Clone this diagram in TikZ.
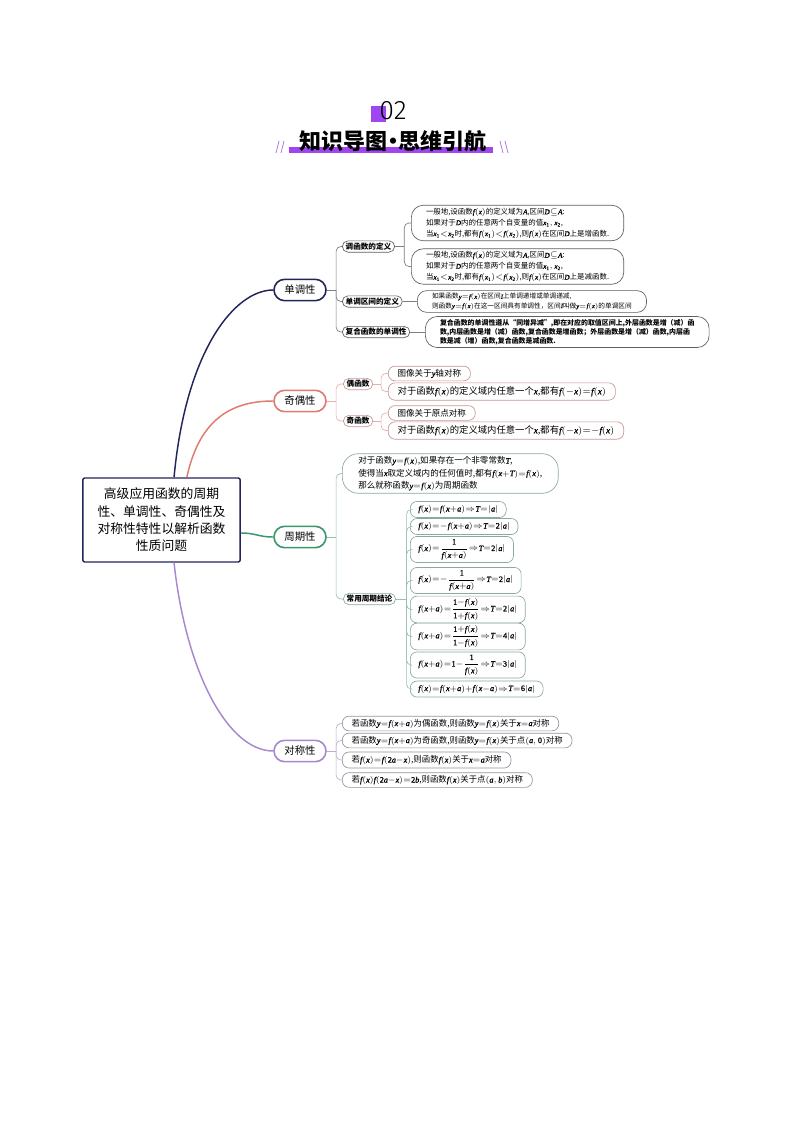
\documentclass[tikz,border=0pt]{standalone}
\usepackage{amsmath}
\usepackage{mathspec}
\setmainfont{Noto Sans CJK SC}
\newfontfamily\numfont{Fira Sans Light}
\setmathsfont(Digits,Latin)[Scale=0.97, FakeBold=1.3]{Liberation Serif}
\usetikzlibrary{shapes.misc}
\definecolor{titlepurple}{RGB}{160,70,240}
\definecolor{slashpurple}{RGB}{175,120,230}
\definecolor{mapnavy}{RGB}{35,36,92}
\definecolor{mapsalmon}{RGB}{222,122,110}
\definecolor{mapgreen}{RGB}{58,150,108}
\definecolor{maplilac}{RGB}{168,136,206}
\definecolor{monotwig}{RGB}{125,125,130}
\definecolor{paritytwig}{RGB}{232,175,170}
\definecolor{periodtwig}{RGB}{150,195,175}
\definecolor{symmtwig}{RGB}{190,175,210}
\definecolor{monobox}{RGB}{95,95,100}
\definecolor{paritybox}{RGB}{200,150,150}
\definecolor{periodbox}{RGB}{140,170,155}
\definecolor{symmbox}{RGB}{150,148,160}
\AtBeginDocument{\thickmuskip=0.5mu\medmuskip=0mu}
\tikzset{
root/.style={draw=mapnavy, line width=1.1pt, rounded corners=1.5pt, minimum width=118pt, minimum height=63pt, align=center, font=\fontsize{9.6}{13}\selectfont},
topic/.style={rounded rectangle, draw=#1, line width=1.2pt, minimum width=41pt, minimum height=16pt, inner xsep=1pt, font=\fontsize{7.8}{9}\selectfont},
subtopic/.style={rounded rectangle, draw=#1, line width=0.5pt, minimum height=8.5pt, inner xsep=1.5pt, inner ysep=0pt, anchor=west, font=\fontsize{5.7}{6}\selectfont\bfseries},
leaf/.style={draw=#1, line width=0.5pt, rounded corners=5pt, anchor=west, align=left, inner xsep=7pt, inner ysep=2pt, minimum height=11pt},
bigleaf/.style={leaf=#1, rounded corners=9pt, inner xsep=11pt},
trunk/.style={draw=#1, line width=1.1pt},
twig/.style={draw=#1, line width=0.5pt, rounded corners=3.5pt},
}
\begin{document}
\begin{tikzpicture}[x=0.75pt, y=-0.75pt]
\fill[white] (0,0) rectangle (794,1123);
\useasboundingbox (0,0) rectangle (794,1123);
% header
\fill[titlepurple] (371,106) rectangle (386,122);
\node[font=\numfont\fontsize{20}{20}\selectfont] (num) at (393,111) {02};
\fill[titlepurple] (289,147) rectangle (493,153);
\node[font=\fontsize{16.5}{16.5}\selectfont\bfseries] (title) at (393,141) {知识导图\kern-4pt·\kern-4pt思维引航};
\draw[slashpurple, line width=0.6pt] (276,153) -- (279,141) (281,153) -- (284,141);
\draw[slashpurple, line width=0.6pt] (500,141) -- (503,153) (505,141) -- (508,153);
% root and main topics
\node[root] (root) at (161.5,520) {高级应用函数的周期\\性、单调性、奇偶性及\\对称性特性以解析函数\\性质问题};
\node[topic=mapnavy] (mono) at (300,290) {单调性};
\node[topic=mapsalmon] (parity) at (300,401) {奇偶性};
\node[topic=mapgreen] (period) at (300,537) {周期性};
\node[topic=maplilac] (symm) at (300,751) {对称性};
\draw[trunk=mapnavy] ([xshift=9.4pt]root.north) .. controls +(12,-128) and +(-38,0) .. (mono.west);
\draw[trunk=mapsalmon] ([xshift=19pt]root.north) .. controls +(12,-55) and +(-45,0) .. (parity.west);
\draw[trunk=mapgreen] ([yshift=-9.75pt]root.east) .. controls +(15,0) and +(-15,0) .. (period.west);
\draw[trunk=maplilac] ([xshift=9.4pt]root.south) .. controls +(12,110) and +(-45,0) .. (symm.west);
% monotonicity
\node[subtopic=monobox] (mdef) at (342,246.5) {调函数的定义};
\node[subtopic=monobox] (mint) at (342,301.5) {单调区间的定义};
\node[subtopic=monobox] (mcomp) at (342,332) {复合函数的单调性};
\node[bigleaf=monobox, font=\fontsize{5.6}{8.2}\selectfont] (minc) at (411,223) {一般地,设函数$f(x)$的定义域为$A$,区间$D\subseteq A$:\\如果对于$D$内的任意两个自变量的值$x_1,x_2$,\\当$x_1<x_2$时,都有$f(x_1)<f(x_2)$,则$f(x)$在区间$D$上是增函数.};
\node[bigleaf=monobox, font=\fontsize{5.6}{8.2}\selectfont] (mdec) at (411,266.5) {一般地,设函数$f(x)$的定义域为$A$,区间$D\subseteq A$:\\如果对于$D$内的任意两个自变量的值$x_1,x_2$,\\当$x_1<x_2$时,都有$f(x_1)<f(x_2)$,则$f(x)$在区间$D$上是减函数.};
\node[bigleaf=monobox, rounded corners=7pt, font=\fontsize{5}{6.8}\selectfont] (mintx) at (417,301.5) {如果函数$y=f(x)$在区间$I$上单调递增或单调递减,\\则函数$y=f(x)$在这一区间具有单调性，区间$I$叫做$y = f(x)$的单调区间};
\node[bigleaf=monobox, font=\fontsize{5.2}{6.8}\selectfont\bfseries] (mcompx) at (425,332) {复合函数的单调性遵从“同增异减”,即在对应的取值区间上,外层函数是增（减）函\\数,内层函数是增（减）函数,复合函数是增函数；外层函数是增（减）函数,内层函\\数是减（增）函数,复合函数是减函数.};
\coordinate (bmono) at ([xshift=7pt]mono.east);
\draw[twig=monotwig] (mono.east) -- (bmono);
\foreach \kid in {mdef,mint,mcomp} \draw[twig=monotwig] (bmono) |- (\kid.west);
\coordinate (bmdef) at ([xshift=7pt]mdef.east);
\draw[twig=monotwig] (mdef.east) -- (bmdef);
\foreach \kid in {minc,mdec} \draw[twig=monotwig] (bmdef) |- (\kid.west);
\draw[twig=monotwig] (mint.east) -- (mintx.west);
\draw[twig=monotwig] (mcomp.east) -- (mcompx.west);
% parity
\node[subtopic=paritybox] (even) at (343,384) {偶函数};
\node[subtopic=paritybox] (odd) at (343,421) {奇函数};
\node[leaf=paritybox, font=\fontsize{6.4}{7}\selectfont] (evena) at (388,373.5) {图像关于$y$轴对称};
\node[leaf=paritybox, font=\fontsize{7}{8}\selectfont, minimum height=13pt] (evenb) at (388,391.5) {对于函数$f(x)$的定义域内任意一个$x$,都有$f(-x)=f(x)$};
\node[leaf=paritybox, font=\fontsize{6.4}{7}\selectfont] (odda) at (388,413) {图像关于原点对称};
\node[leaf=paritybox, font=\fontsize{7}{8}\selectfont, minimum height=13pt] (oddb) at (388,430.5) {对于函数$f(x)$的定义域内任意一个$x$,都有$f(-x)=-f(x)$};
\coordinate (bparity) at ([xshift=7pt]parity.east);
\draw[twig=paritytwig] (parity.east) -- (bparity);
\foreach \kid in {even,odd} \draw[twig=paritytwig] (bparity) |- (\kid.west);
\coordinate (beven) at ([xshift=6pt]even.east);
\draw[twig=paritytwig] (even.east) -- (beven);
\foreach \kid in {evena,evenb} \draw[twig=paritytwig] (beven) |- (\kid.west);
\coordinate (bodd) at ([xshift=6pt]odd.east);
\draw[twig=paritytwig] (odd.east) -- (bodd);
\foreach \kid in {odda,oddb} \draw[twig=paritytwig] (bodd) |- (\kid.west);
% periodicity
\node[bigleaf=periodbox, rounded corners=12pt, inner xsep=12pt, font=\fontsize{6.4}{9.4}\selectfont] (pdef) at (342,473.5) {对于函数$y=f(x)$,如果存在一个非零常数$T$,\\使得当$x$取定义域内的任何值时,都有$f(x+T)=f(x)$,\\那么就称函数$y=f(x)$为周期函数};
\node[subtopic=periodbox] (pcon) at (343,599) {常用周期结论};
\foreach \nm/\yy/\fm in {
  pa/509.5/{f(x)=f(x+a)\Rightarrow T=|a|},
  pb/526.5/{f(x)=-f(x+a)\Rightarrow T=2|a|},
  pc/549.5/{f(x)=\dfrac{1}{f(x+a)}\Rightarrow T=2|a|},
  pd/580.5/{f(x)=-\dfrac{1}{f(x+a)}\Rightarrow T=2|a|},
  pe/609.5/{f(x+a)=\dfrac{1-f(x)}{1+f(x)}\Rightarrow T=2|a|},
  pf/636.5/{f(x+a)=\dfrac{1+f(x)}{1-f(x)}\Rightarrow T=4|a|},
  pg/665/{f(x+a)=1-\dfrac{1}{f(x)}\Rightarrow T=3|a|},
  ph/689/{f(x)=f(x+a)+f(x-a)\Rightarrow T=6|a|}}
  \node[leaf=periodbox, inner xsep=6pt, font=\fontsize{6.3}{7.5}\selectfont, minimum height=12pt] (\nm) at (410,\yy) {$\fm$};
\coordinate (bperiod) at ([xshift=7pt]period.east);
\draw[twig=periodtwig] (period.east) -- (bperiod);
\foreach \kid in {pdef,pcon} \draw[twig=periodtwig] (bperiod) |- (\kid.west);
\coordinate (bpcon) at ([xshift=8pt]pcon.east);
\draw[twig=periodtwig] (pcon.east) -- (bpcon);
\foreach \kid in {pa,pb,pc,pd,pe,pf,pg,ph} \draw[twig=periodtwig] (bpcon) |- (\kid.west);
% symmetry
\node[leaf=symmbox, font=\fontsize{6.3}{7.5}\selectfont] (sa) at (342,723.5) {若函数$y=f(x+a)$为偶函数,则函数$y=f(x)$关于$x=a$对称};
\node[leaf=symmbox, font=\fontsize{6.3}{7.5}\selectfont] (sb) at (342,740.5) {若函数$y=f(x+a)$为奇函数,则函数$y=f(x)$关于点$(a,0)$对称};
\node[leaf=symmbox, font=\fontsize{6.3}{8}\selectfont, minimum height=12pt] (sc) at (342,760) {若$f(x)=f(2a-x)$,则函数$f(x)$关于$x=a$对称};
\node[leaf=symmbox, font=\fontsize{6.3}{7.5}\selectfont] (sd) at (342,780) {若$f(x)f(2a-x)=2b$,则函数$f(x)$关于点$(a,b)$对称};
\coordinate (bsymm) at ([xshift=7pt]symm.east);
\draw[twig=symmtwig] (symm.east) -- (bsymm);
\foreach \kid in {sa,sb,sc,sd} \draw[twig=symmtwig] (bsymm) |- (\kid.west);
\end{tikzpicture}
\end{document}
